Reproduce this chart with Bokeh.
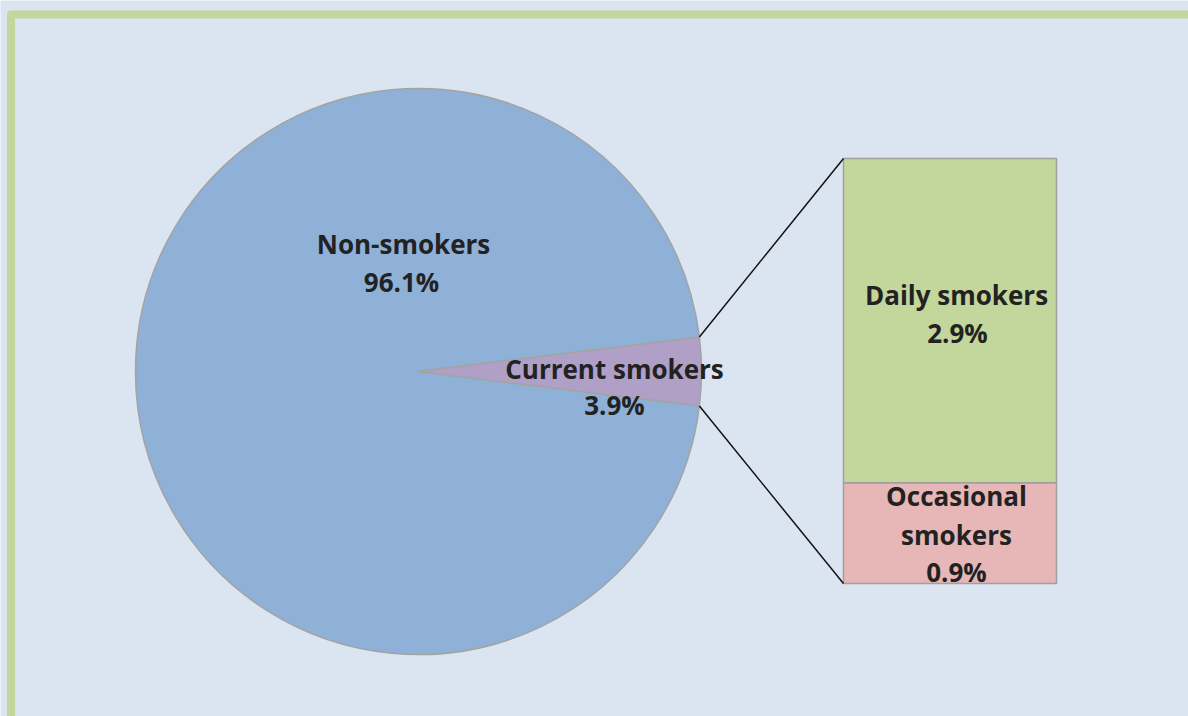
import math
from bokeh.plotting import figure
from bokeh.models import Range1d, ColumnDataSource
from bokeh.core.properties import value
from bokeh.embed import file_html
from bokeh.resources import INLINE

# ---- data ----
pie_labels = ["Non-smokers", "Current smokers"]
pie_values = [96.1, 3.9]
pie_colors = ["#8fb0d7", "#b09fc6"]

bar_labels = ["Occasional smokers", "Daily smokers"]
bar_values = [0.9, 2.9]
bar_colors = ["#e6b7b6", "#c3d69b"]

W, H = 1188, 716
BG = "#dbe5f1"
FONT = "Open Sans"
TXT = "#222222"

p = figure(width=W, height=H, output_backend="svg", toolbar_location=None,
           x_range=Range1d(0, W), y_range=Range1d(0, H), min_border=0)
p.background_fill_color = BG
p.border_fill_color = BG
p.outline_line_color = None
p.axis.visible = False
p.grid.visible = False

def Y(page_y):
    return H - page_y

def X(page_x):
    return page_x

# ---- pie ----
cx, cy, r = X(418), Y(371), 283
total = sum(pie_values)
cur_half = pie_values[1] / total * math.pi
starts = [cur_half, -cur_half]
ends = [2 * math.pi - cur_half, cur_half]
src = ColumnDataSource(dict(start=starts, end=ends, color=pie_colors))
p.wedge(x=cx, y=cy, radius=r, start_angle="start", end_angle="end",
        fill_color="color", line_color="#a3a3a3", line_width=1.5, source=src)

# ---- bar of current smokers ----
bx0, bx1 = X(843), X(1056)
by0, by1 = Y(583), Y(158)
scale = (by1 - by0) / sum(bar_values)
bottoms, tops = [], []
acc = 0.0
for v in bar_values:
    bottoms.append(by0 + acc * scale)
    acc += v
    tops.append(by0 + acc * scale)
p.quad(left=bx0, right=bx1, bottom=bottoms, top=tops, fill_color=bar_colors,
       line_color="#a0a0a0", line_width=1.5)

# ---- connector lines ----
ex_top = cx + r * math.cos(cur_half); ey_top = cy + r * math.sin(cur_half)
ex_bot = cx + r * math.cos(-cur_half); ey_bot = cy + r * math.sin(-cur_half)
p.segment(x0=[ex_top, ex_bot], y0=[ey_top, ey_bot], x1=[bx0, bx0], y1=[by1, by0],
          line_color="#111111", line_width=1.5)

# ---- labels ----
def label(xc, base_y, txt):
    p.text(x=[X(xc)], y=[Y(base_y - 9)], text=[txt], text_align="center",
           text_baseline="alphabetic", text_font=value(FONT), text_font_style="bold",
           text_font_size="26px", text_color=TXT)

label(403, 252, pie_labels[0])
label(401, 290, f"{pie_values[0]}%")
label(614, 377, pie_labels[1])
label(614, 413, f"{pie_values[1]}%")
label(956, 303, bar_labels[1])
label(957, 341, f"{bar_values[1]}%")
label(956, 504, "Occasional")
label(956, 543, "smokers")
label(956, 580, f"{bar_values[0]}%")

# ---- green frame (top & left) ----
p.line(x=[10.5, 10.5, 1300], y=[-20, Y(14), Y(14)], line_color="#c3d69b",
       line_width=8, line_join="round")

open("out.html", "w").write(file_html(p, INLINE))
